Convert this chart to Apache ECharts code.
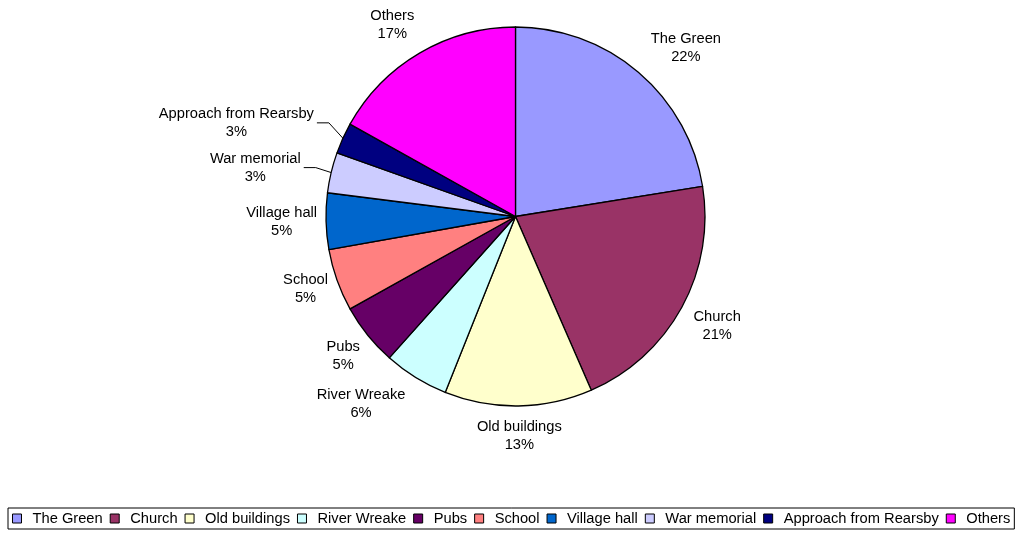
<!DOCTYPE html>
<html>
<head>
<meta charset="utf-8">
<script src="https://cdn.jsdelivr.net/npm/echarts@6/dist/echarts.min.js"></script>
<style>
html,body{margin:0;padding:0;background:#fff;}
#main{width:1017px;height:534px;}
</style>
</head>
<body>
<div id="main"></div>
<script type="text/javascript">
	var categories = ["The Green","Church","Old buildings","River Wreake","Pubs","School","Village hall","War memorial","Approach from Rearsby","Others"];
	var values = [22.45, 21.0, 12.6, 5.55, 5.3, 5.3, 4.8, 3.45, 2.65, 16.9];
	var colors = ["#9999ff","#993366","#ffffcc","#ccffff","#660066","#ff8080","#0066cc","#ccccff","#000080","#ff00ff"];
	var leaderItems = [7, 8];//labels with leader lines

	var cx = 515.5, cy = 216.5, R = 189.5;
	var total = values.reduce(function(a,b){return a+b;},0);
	//small hand adjustments, like the dragged labels in the original
	var nudge = {0:[17,-1],1:[4,4],3:[-25,1],4:[-2,2],5:[1,-1],6:[3,0],7:[-20,2],8:[-25,-3],9:[-10,-2]};
	var fontName = "'Liberation Sans', Arial, sans-serif";

	function midDir(i){
		var cum = 0;
		for(var k=0;k<i;k++){cum += values[k];}
		var a = (cum + values[i]/2)/total*Math.PI*2;
		return [Math.sin(a), -Math.cos(a)];
	}

	var data = categories.map(function(name,i){
		var item = {name:name,value:values[i],itemStyle:{color:colors[i]}};
		if(leaderItems.indexOf(i) >= 0){
			item.labelLine = {show:true};
		}
		return item;
	});

	var myChart = echarts.init(document.getElementById("main"));
	var option = {
		backgroundColor:"#fff",
		animation:false,
		textStyle:{fontFamily:fontName},
		legend:{
			orient:"horizontal",
			left:8,
			top:508,
			padding:[3,4,3,4],
			borderColor:"#000",
			borderWidth:1,
			itemWidth:9,
			itemHeight:9,
			itemGap:7,
			icon:"rect",
			itemStyle:{borderColor:"#000",borderWidth:1},
			textStyle:{fontSize:14.7,color:"#000",fontFamily:fontName,padding:[0,0,0,6]},
			data:categories
		},
		series:[
			{
				type:"pie",
				center:[cx,cy],
				radius:[0,R],
				startAngle:90,
				clockwise:true,
				avoidLabelOverlap:false,
				percentPrecision:0,
				itemStyle:{borderColor:"#000",borderWidth:1.3},
				label:{
					show:true,
					position:"outside",
					formatter:"{b}\n{d}%",
					fontSize:14.7,
					lineHeight:18,
					color:"#000",
					fontFamily:fontName,
					align:"center"
				},
				labelLine:{show:false,lineStyle:{color:"#000",width:1}},
				emphasis:{disabled:true},
				labelLayout:function(params){
					var i = params.dataIndex;
					var d = midDir(i);
					var w = params.labelRect.width, h = params.labelRect.height;
					var g = 12;
					var n = nudge[i] || [0,0];
					var px = cx + (R+g)*d[0] + d[0]*w/2 + n[0];
					var py = cy + (R+g)*d[1] + d[1]*h/2 + n[1];
					var res = {x:px,y:py,align:"center",verticalAlign:"middle"};
					if(leaderItems.indexOf(i) >= 0){
						var rx = px + w/2;
						res.labelLinePoints = [
							[cx + R*d[0], cy + R*d[1]],
							[rx + 15, py],
							[rx + 3, py]
						];
					}
					return res;
				},
				data:data
			}
		]
	};
	myChart.setOption(option);
</script>
</body>
</html>
